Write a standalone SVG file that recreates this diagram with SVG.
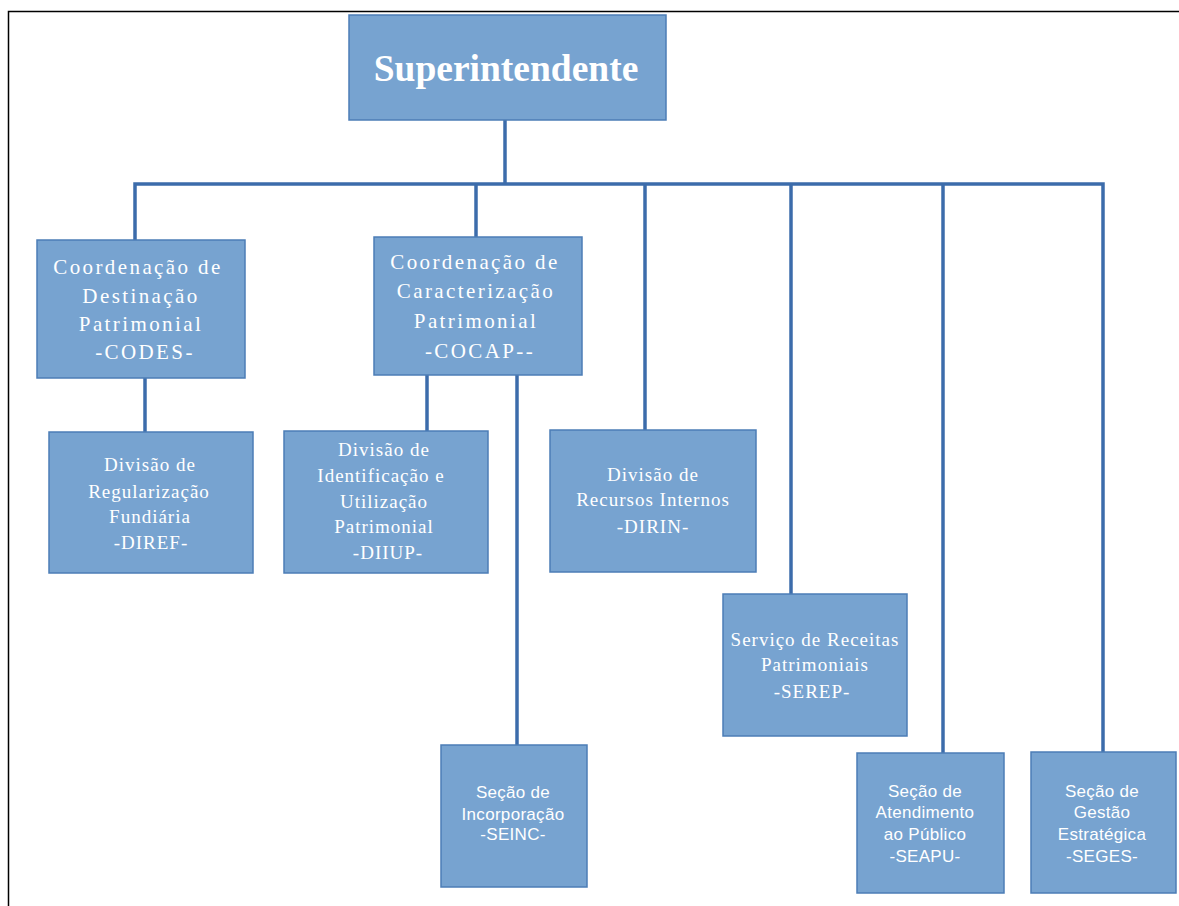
<svg xmlns="http://www.w3.org/2000/svg" width="1179" height="906" viewBox="0 0 1179 906">
<style>
.box{fill:#77A3D0;stroke:#4C7DB6;stroke-width:1.5}
.t{fill:#FFFFFF;font-family:"Liberation Serif",serif;text-anchor:middle}
.c{font-size:21px;letter-spacing:2.4px}
.d{font-size:19px;letter-spacing:1px}
.s{font-family:"Liberation Sans",sans-serif;font-size:17px;letter-spacing:0.3px}
.conn{stroke:#3C6CAB;stroke-width:3.5;fill:none}
</style>
<rect x="0" y="0" width="1179" height="906" fill="#FFFFFF"/>
<path d="M8.5 906 V11.5 H1179" fill="none" stroke="#000000" stroke-width="1.5"/>
<g id="connectors">
<path class="conn" d="M505 120 V184"/>
<path class="conn" d="M135 240 V184 H1103 V752"/>
<path class="conn" d="M476 184 V237"/>
<path class="conn" d="M645 184 V430"/>
<path class="conn" d="M791 184 V594"/>
<path class="conn" d="M943 184 V753"/>
<path class="conn" d="M145 378 V432"/>
<path class="conn" d="M427 375 V431"/>
<path class="conn" d="M517 375 V745"/>
</g>
<g id="superintendente">
<rect class="box" x="349" y="15" width="317" height="105"/>
<text class="t" x="506" y="81" font-size="37.5" font-weight="bold">Superintendente</text>
</g>
<g id="codes">
<rect class="box" x="37" y="240" width="208" height="138"/>
<text class="t c" x="138" y="274">Coordenação de</text>
<text class="t c" x="141" y="303">Destinação</text>
<text class="t c" x="141" y="331">Patrimonial</text>
<text class="t c" x="145" y="359">-CODES-</text>
</g>
<g id="cocap">
<rect class="box" x="374" y="237" width="208" height="138"/>
<text class="t c" x="475" y="269">Coordenação de</text>
<text class="t c" x="476" y="298">Caracterização</text>
<text class="t c" x="476" y="328">Patrimonial</text>
<text class="t c" x="480" y="358">-COCAP--</text>
</g>
<g id="diref">
<rect class="box" x="49" y="432" width="204" height="141"/>
<text class="t d" x="150" y="471">Divisão de</text>
<text class="t d" x="149" y="498">Regularização</text>
<text class="t d" x="150" y="523">Fundiária</text>
<text class="t d" x="151" y="549">-DIREF-</text>
</g>
<g id="diiup">
<rect class="box" x="284" y="431" width="204" height="142"/>
<text class="t d" x="384" y="456">Divisão de</text>
<text class="t d" x="381" y="482">Identificação e</text>
<text class="t d" x="384" y="508">Utilização</text>
<text class="t d" x="384" y="533">Patrimonial</text>
<text class="t d" x="388" y="559">-DIIUP-</text>
</g>
<g id="dirin">
<rect class="box" x="550" y="430" width="206" height="142"/>
<text class="t d" x="653" y="481">Divisão de</text>
<text class="t d" x="653" y="506">Recursos Internos</text>
<text class="t d" x="653" y="533">-DIRIN-</text>
</g>
<g id="serep">
<rect class="box" x="723" y="594" width="184" height="142"/>
<text class="t d" x="815" y="646" letter-spacing="0.5">Serviço de Receitas</text>
<text class="t d" x="815" y="671">Patrimoniais</text>
<text class="t d" x="812" y="698">-SEREP-</text>
</g>
<g id="seinc">
<rect class="box" x="441" y="745" width="146" height="142"/>
<text class="t s" x="513" y="798">Seção de</text>
<text class="t s" x="513" y="820">Incorporação</text>
<text class="t s" x="513" y="840">-SEINC-</text>
</g>
<g id="seapu">
<rect class="box" x="857" y="753" width="147" height="140"/>
<text class="t s" x="925" y="797">Seção de</text>
<text class="t s" x="925" y="818" letter-spacing="0.8">Atendimento</text>
<text class="t s" x="925" y="840">ao Público</text>
<text class="t s" x="925" y="862">-SEAPU-</text>
</g>
<g id="seges">
<rect class="box" x="1031" y="752" width="145" height="141"/>
<text class="t s" x="1102" y="797">Seção de</text>
<text class="t s" x="1102" y="818">Gestão</text>
<text class="t s" x="1102" y="840">Estratégica</text>
<text class="t s" x="1102" y="862">-SEGES-</text>
</g>
</svg>
